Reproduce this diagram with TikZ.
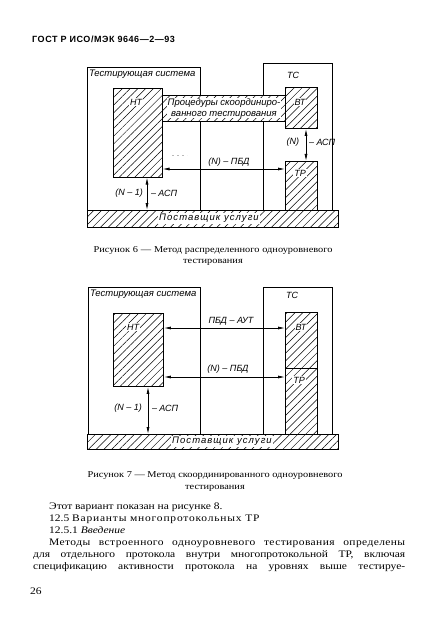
\documentclass[tikz,border=0pt]{standalone}
\usepackage{fontspec}
\setmainfont[FakeStretch=1.15]{Liberation Serif}
\newfontfamily\lblfamily{Liberation Sans}
\newfontfamily\provfamily[LetterSpace=11]{Liberation Sans}
\newfontfamily\headfamily[LetterSpace=6]{Liberation Sans}
\usetikzlibrary{patterns.meta,arrows.meta}
\newcommand\lblfont{\lblfamily\itshape\fontsize{9}{10}\selectfont}
\tikzset{
  frame/.style={draw, line width=0.95pt, inner sep=0pt, anchor=north west},
  hbox/.style={frame, preaction={fill=white}, pattern={Lines[angle=45,distance=5.5pt,line width=0.5pt]}},
  lbl/.style={font=\lblfont, inner sep=0.8pt},
  wlbl/.style={lbl, fill=white},
  provlbl/.style={wlbl, font=\provfamily\itshape\fontsize{9.5}{10}\selectfont},
  tslbl/.style={lbl, font=\lblfamily\itshape\fontsize{9.5}{10}\selectfont, anchor=north west},
  conn/.style={line width=0.75pt, {Latex[length=7pt,width=3pt]}-{Latex[length=7pt,width=3pt]}},
  captext/.style={font=\fontsize{9}{10}\selectfont, inner sep=0pt},
  bodytext/.style={font=\fontsize{10}{12}\selectfont, inner sep=0pt, anchor=base west},
}
\begin{document}
\begin{tikzpicture}[x=1pt,y=-1pt]
\useasboundingbox (0,0) rectangle (427,631);
\fill[white] (0,0) rectangle (427,631);

% header
\node[font=\headfamily\bfseries\fontsize{9}{10}\selectfont, inner sep=0pt, anchor=west] (head) at (32,39) {ГОСТ Р ИСО/МЭК 9646—2—93};

% ---------- Figure 6 ----------
\node[frame, minimum width=113pt, minimum height=143pt] (ts6) at (87,67) {};
\node[frame, minimum width=69pt, minimum height=147pt] (tc6) at (263,63) {};
\node[hbox, minimum width=49pt, minimum height=89pt] (nt6) at (113,88) {};
\node[hbox, minimum width=123pt, minimum height=26pt] (band6) at (162,95) {};
\node[hbox, minimum width=32pt, minimum height=41pt] (vt6) at (285,87) {};
\node[hbox, minimum width=32pt, minimum height=49pt] (tp6) at (285,161) {};
\node[hbox, minimum width=251pt, minimum height=17pt] (prov6) at (87,210) {};

\node[tslbl] (ts6l) at ([xshift=1pt,yshift=-1.5pt]ts6.north west) {Тестирующая система};
\node[lbl] (tc6l) at (293,75) {ТС};
\node[wlbl] (nt6l) at (136,102) {НТ};
\node[wlbl] (vt6l) at (300,102) {ВТ};
\node[wlbl] (tp6l) at (300,173) {ТР};
\node[wlbl, align=center, font=\lblfamily\itshape\fontsize{9.5}{10.5}\selectfont, inner sep=0.3pt] (band6l) at (band6.center) {Процедуры скоординиро-\\ванного тестирования};
\node[provlbl] (prov6l) at (209,218.5) {Поставщик услуги};

\draw[conn] (nt6.east |- 0,169) -- (tp6.west |- 0,169);
\node[lbl] (pbd6l) at (229,162) {(N) – ПБД};
\draw[conn] (vt6.south -| 306,0) -- (tp6.north -| 306,0);
\node[lbl, anchor=east] (asp6a) at (300,142) {(N)};
\node[lbl, anchor=west] (asp6b) at (308,142) {– АСП};
\draw[conn] (nt6.south -| 147,0) -- (prov6.north -| 147,0);
\node[lbl, anchor=east] (asp6c) at (144,193) {(N – 1)};
\node[lbl, anchor=west] (asp6d) at (150,193) {– АСП};
\draw[gray!55, line width=0.5pt, dash pattern=on 2pt off 3pt] (172,155) -- (187,155);

\node[captext] (cap6a) at (213,250) {\makebox[239pt][s]{Рисунок 6 — Метод распределенного одноуровневого}};
\node[captext] (cap6b) at (213,262) {тестирования};

% ---------- Figure 7 ----------
\node[frame, minimum width=112pt, minimum height=147pt] (ts7) at (88,287) {};
\node[frame, minimum width=69pt, minimum height=147pt] (tc7) at (263,287) {};
\node[hbox, minimum width=50pt, minimum height=73pt] (nt7) at (113,313) {};
\node[hbox, minimum width=32pt, minimum height=56pt] (vt7) at (285,312) {};
\node[hbox, minimum width=32pt, minimum height=66pt] (tp7) at (285,368) {};
\node[hbox, minimum width=251pt, minimum height=15pt] (prov7) at (87,434) {};

\node[tslbl] (ts7l) at ([xshift=1pt,yshift=-1.5pt]ts7.north west) {Тестирующая система};
\node[lbl] (tc7l) at (292,295) {ТС};
\node[wlbl] (nt7l) at (133,327) {НТ};
\node[wlbl] (vt7l) at (301,327) {ВТ};
\node[wlbl] (tp7l) at (299,380) {ТР};
\node[provlbl] (prov7l) at (222,441.5) {Поставщик услуги};

\draw[conn] (nt7.east |- 0,328) -- (vt7.west |- 0,328);
\node[lbl] (aut7l) at (231,321) {ПБД – АУТ};
\draw[conn] (nt7.east |- 0,377) -- (tp7.west |- 0,377);
\node[lbl] (pbd7l) at (228,369) {(N) – ПБД};
\draw[conn] (nt7.south -| 148,0) -- (prov7.north -| 148,0);
\node[lbl, anchor=east] (asp7a) at (143,408) {(N – 1)};
\node[lbl, anchor=west] (asp7b) at (151,408) {– АСП};

\node[captext] (cap7a) at (215,476) {\makebox[255pt][s]{Рисунок 7 — Метод скоординированного одноуровневого}};
\node[captext] (cap7b) at (215,488) {тестирования};

% ---------- Body text ----------
\node[bodytext] (b1) at (49,509.5) {Этот вариант показан на рисунке 8.};
\node[bodytext] (b2) at (49,521.5) {12.5 {\addfontfeature{LetterSpace=8}Варианты многопротокольных ТР}};
\node[bodytext] (b3) at (49,533.5) {12.5.1 \textit{Введение}};
\node[bodytext] (b4) at (49,545.5) {\makebox[356pt][s]{\addfontfeature{LetterSpace=4}Методы встроенного одноуровневого тестирования определены}};
\node[bodytext] (b5) at (33,557.5) {\makebox[372pt][s]{для отдельного протокола внутри многопротокольной ТР, включая}};
\node[bodytext] (b6) at (33,569.5) {\makebox[372pt][s]{спецификацию активности протокола на уровнях выше тестируе-}};
\node[bodytext] (pg) at (30,594) {26};
\end{tikzpicture}
\end{document}
